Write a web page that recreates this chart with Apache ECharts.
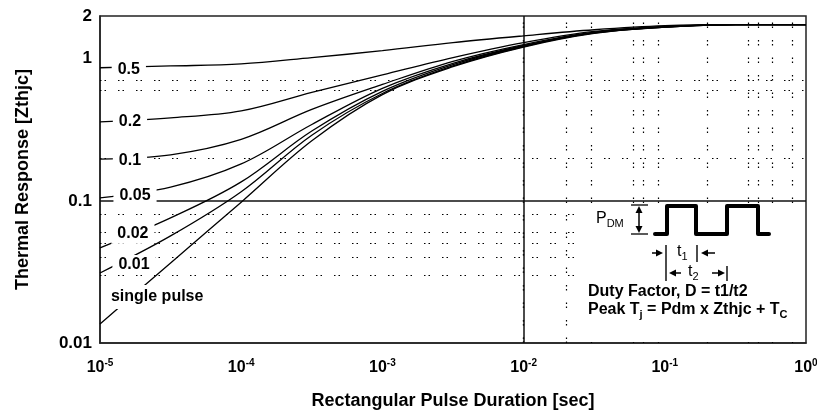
<!DOCTYPE html>
<html>
<head>
<meta charset="utf-8">
<script src="https://cdn.jsdelivr.net/npm/echarts@6/dist/echarts.min.js"></script>
<style>
  html, body { margin: 0; padding: 0; background: #fff; }
  #chart { width: 817px; height: 410px; }
</style>
</head>
<body>
<div id="chart"></div>
<script>
// Pulse durations (s), half-decade steps
const durations = [1e-5, 3.162e-5, 1e-4, 3.162e-4, 1e-3, 3.162e-3, 1e-2, 3.162e-2, 1e-1, 3.162e-1, 1];

// Normalised transient thermal response Zthjc for each duty factor
const dutyNames = ['0.5', '0.2', '0.1', '0.05', '0.02', '0.01', 'single pulse'];
const zthD050 = [0.865, 0.89, 0.92, 1.02, 1.14, 1.30, 1.45, 1.60, 1.71, 1.74, 1.74];
const zthD020 = [0.36, 0.384, 0.43, 0.58, 0.77, 1.02, 1.30, 1.56, 1.69, 1.74, 1.74];
const zthD010 = [0.197, 0.211, 0.271, 0.44, 0.66, 0.96, 1.26, 1.54, 1.68, 1.74, 1.74];
const zthD005 = [0.105, 0.125, 0.182, 0.345, 0.62, 0.93, 1.24, 1.53, 1.68, 1.74, 1.74];
const zthD002 = [0.0467, 0.0759, 0.136, 0.31, 0.59, 0.91, 1.23, 1.52, 1.67, 1.74, 1.74];
const zthD001 = [0.0311, 0.0567, 0.116, 0.29, 0.57, 0.89, 1.22, 1.52, 1.67, 1.74, 1.74];
const zthSingle = [0.0136, 0.0366, 0.098, 0.265, 0.56, 0.88, 1.21, 1.51, 1.67, 1.74, 1.74];
const zthCurves = [zthD050, zthD020, zthD010, zthD005, zthD002, zthD001, zthSingle];

// Grid lines
const solidGridX = [1e-4, 1e-2];
const solidGridY = [0.1];
const dottedGridX = [3.2e-5, 7.3e-5, 8.4e-5, 9.4e-5, 2.1e-4, 3.1e-4, 6.1e-4, 7.1e-4,
                     4e-3, 5e-3, 8.1e-3, 2e-2, 3e-2, 6e-2, 7e-2, 8.9e-2, 0.2, 0.39, 0.46, 0.58, 0.8];
const dottedGridY = [0.71, 0.605, 0.204, 0.08, 0.06, 0.05, 0.04, 0.03];

// Where each curve's name is written (duration, Zthjc)
const nameAnchors = [
  [1.6e-5, 0.837], [1.63e-5, 0.36], [1.63e-5, 0.191], [1.77e-5, 0.1084],
  [1.71e-5, 0.0586], [1.74e-5, 0.0354], [2.54e-5, 0.0211]
];

const FONT = 'Liberation Sans, Arial, Helvetica, sans-serif';
const INK = '#000';

const chart = echarts.init(document.getElementById('chart'), null, { renderer: 'canvas' });

const gridMarks = [];
dottedGridX.forEach(v => gridMarks.push({ xAxis: v, lineStyle: { type: [1.5, 2.5, 1.5, 12], color: '#000', width: 1.2 } }));
dottedGridY.forEach(v => gridMarks.push({ yAxis: v, lineStyle: { type: [1.5, 3, 1.5, 12], color: '#000', width: 1.2 } }));
solidGridX.forEach(v => gridMarks.push({ xAxis: v, lineStyle: { type: 'solid', color: '#111', width: 1.5 } }));
solidGridY.forEach(v => gridMarks.push({ yAxis: v, lineStyle: { type: 'solid', color: '#111', width: 1.5 } }));

const series = [{
  name: 'grid',
  type: 'line',
  data: [],
  z: 1,
  silent: true,
  markLine: {
    silent: true,
    z: 1,
    symbol: ['none', 'none'],
    label: { show: false },
    animation: false,
    data: gridMarks
  }
}];

zthCurves.forEach((vals, i) => {
  series.push({
    name: dutyNames[i],
    type: 'line',
    data: durations.map((t, k) => [t, vals[k]]),
    showSymbol: false,
    smooth: 0.35,
    z: 3,
    silent: true,
    lineStyle: { color: INK, width: 1.3 },
    markPoint: {
      z: 10,
      silent: true,
      symbol: 'rect',
      symbolSize: 0,
      animation: false,
      label: {
        show: true,
        position: 'inside',
        formatter: dutyNames[i],
        color: INK,
        fontFamily: FONT,
        fontWeight: 'bold',
        fontSize: 16,
        backgroundColor: '#fff',
        padding: i === 6 ? [4, 3] : [2, 6]
      },
      data: [{ coord: nameAnchors[i] }]
    }
  });
});

const line = (x1, y1, x2, y2, w) => ({
  type: 'line', z: 52, silent: true,
  shape: { x1, y1, x2, y2 },
  style: { stroke: INK, lineWidth: w || 1.3 }
});
const head = (pts) => ({
  type: 'polygon', z: 52, silent: true,
  shape: { points: pts },
  style: { fill: INK }
});
const text = (x, y, str, font, rich) => ({
  type: 'text', z: 53, silent: true, x, y,
  style: {
    text: str, font, fill: INK, rich,
    textAlign: 'left', textVerticalAlign: 'middle', align: 'left', verticalAlign: 'middle'
  }
});

const subRich = {
  a: { fontFamily: FONT, fontWeight: 'bold', fontSize: 16, lineHeight: 20, color: INK },
  s: { fontFamily: FONT, fontWeight: 'bold', fontSize: 11, lineHeight: 20, verticalAlign: 'bottom', color: INK }
};
const subRichThin = {
  a: { fontFamily: FONT, fontSize: 16, lineHeight: 20, color: INK },
  s: { fontFamily: FONT, fontSize: 11, lineHeight: 20, verticalAlign: 'bottom', color: INK }
};

const graphic = [
  { type: 'rect', z: 50, silent: true, shape: { x: 583, y: 203, width: 222, height: 139 }, style: { fill: '#fff' } },
  // pulse train
  { type: 'polyline', z: 51, silent: true,
    shape: { points: [[655, 234], [667, 234], [667, 206], [696, 206], [696, 234], [727, 234], [727, 206], [758, 206], [758, 234], [769, 234]] },
    style: { stroke: INK, lineWidth: 4, fill: null, lineJoin: 'round', lineCap: 'round' } },
  // P_DM amplitude arrow
  line(631, 205, 648, 205, 1.3), line(631, 234, 648, 234, 1.3),
  line(639, 211, 639, 229, 1.5),
  head([[639, 206], [635.5, 213], [642.5, 213]]),
  head([[639, 233], [635.5, 226], [642.5, 226]]),
  text(596, 219, '{a|P}{s|DM}', null, subRichThin),
  // t1 span
  line(666, 245, 666, 281, 1.4), line(697, 245, 697, 262, 1.4), line(727, 266, 727, 281, 1.4),
  line(652, 253, 657, 253, 1.5), head([[663, 253], [656, 249.5], [656, 256.5]]),
  line(708, 253, 715, 253, 1.5), head([[701, 253], [708, 249.5], [708, 256.5]]),
  text(677, 252, '{a|t}{s|1}', null, subRichThin),
  // t2 span
  line(676, 273, 681, 273, 1.5), head([[669, 273], [676, 269.5], [676, 276.5]]),
  line(712, 273, 718, 273, 1.5), head([[725, 273], [718, 269.5], [718, 276.5]]),
  text(688, 272, '{a|t}{s|2}', null, subRichThin),
  // formulas
  text(588, 292, 'Duty Factor, D = t1/t2', 'bold 16px ' + FONT),
  text(588, 310, '{a|Peak T}{s|j}{a| = Pdm x Zthjc + T}{s|C}', null, subRich)
];

const option = {
  animation: false,
  backgroundColor: '#fff',
  grid: {
    left: 100, right: 11, top: 16, bottom: 67,
    outerBoundsMode: 'none',
    containLabel: false,
    show: true, borderColor: '#222', borderWidth: 1.5, backgroundColor: 'transparent'
  },
  xAxis: {
    type: 'log', logBase: 10, min: 1e-5, max: 1,
    name: 'Rectangular Pulse Duration [sec]',
    nameLocation: 'middle', nameGap: 49,
    nameTextStyle: { fontFamily: FONT, fontWeight: 'bold', fontSize: 18, color: INK },
    axisLine: { show: true, lineStyle: { color: '#222', width: 1.5 } },
    axisTick: { show: false },
    minorTick: { show: false },
    splitLine: { show: false },
    axisLabel: {
      margin: 15,
      formatter: v => '{b|10}{s|' + Math.round(Math.log10(v)) + '}',
      rich: {
        b: { fontFamily: FONT, fontWeight: 'bold', fontSize: 16, color: INK, lineHeight: 20 },
        s: { fontFamily: FONT, fontWeight: 'bold', fontSize: 10, color: INK, lineHeight: 20, verticalAlign: 'top' }
      }
    }
  },
  yAxis: {
    type: 'log', logBase: 10, min: 0.01, max: 2,
    name: 'Thermal Response [Zthjc]',
    nameLocation: 'middle', nameGap: 68,
    nameTextStyle: { fontFamily: FONT, fontWeight: 'bold', fontSize: 18, color: INK },
    axisLine: { show: true, lineStyle: { color: '#222', width: 1.5 } },
    axisTick: { show: false },
    minorTick: { show: false },
    splitLine: { show: false },
    axisLabel: {
      margin: 8,
      fontFamily: FONT, fontWeight: 'bold', fontSize: 17, color: INK,
      formatter: v => (v >= 1 ? String(Math.round(v)) : String(+v.toPrecision(1)))
    }
  },
  series,
  graphic
};

chart.setOption(option);
</script>
</body>
</html>
